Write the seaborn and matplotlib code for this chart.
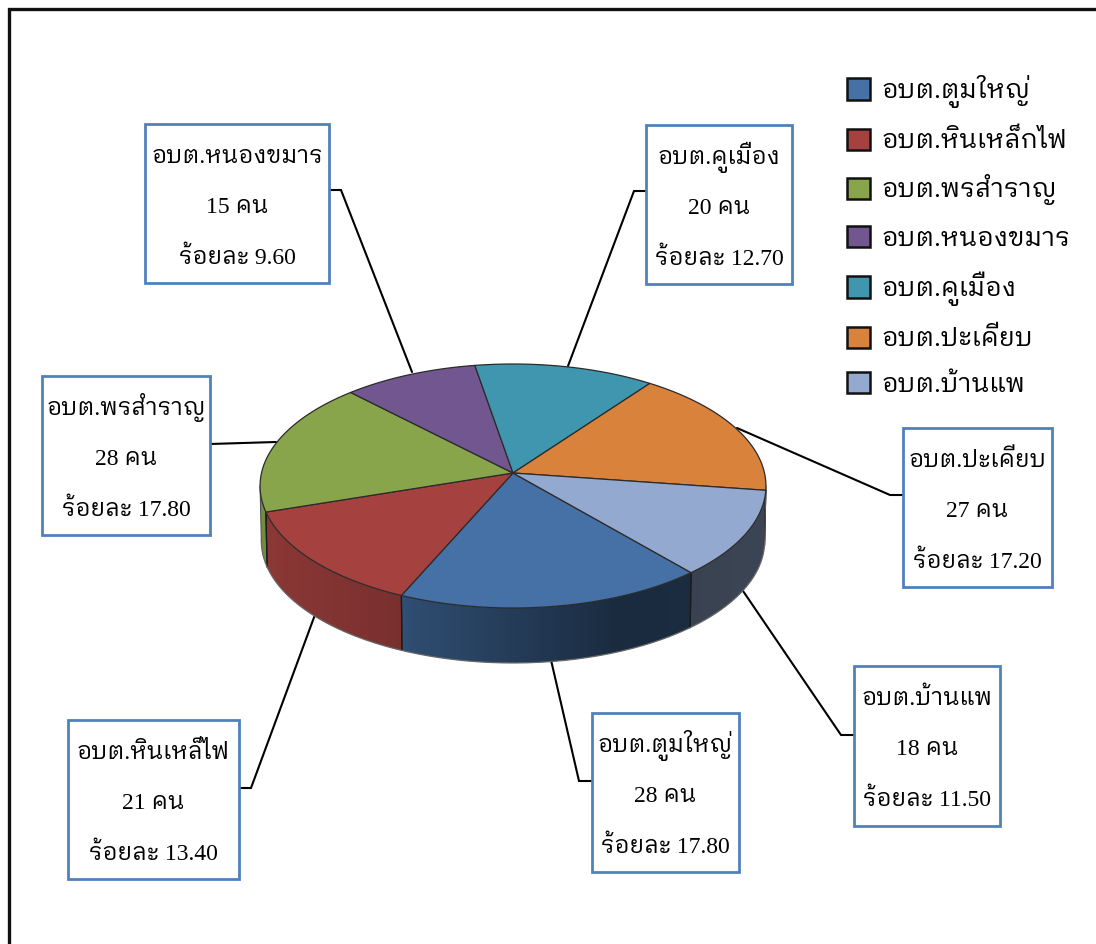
import numpy as np
import matplotlib
matplotlib.use("Agg")
import matplotlib.pyplot as plt
from matplotlib.patches import Patch, Polygon, Rectangle
import seaborn as sns

# ---------- data ----------
legend_names = ["อบต.ตูมใหญ่", "อบต.หินเหล็กไฟ", "อบต.พรสำราญ", "อบต.หนองขมาร",
                "อบต.คูเมือง", "อบต.ปะเคียบ", "อบต.บ้านแพ"]
label_names = ["อบต.ตูมใหญ่", "อบต.หินเหล็ไฟ", "อบต.พรสำราญ", "อบต.หนองขมาร",
               "อบต.คูเมือง", "อบต.ปะเคียบ", "อบต.บ้านแพ"]
counts = [28, 21, 28, 15, 20, 27, 18]
percents = [17.80, 13.40, 17.80, 9.60, 12.70, 17.20, 11.50]
hex_colors = ["#4571A6", "#A54240", "#89A54C", "#71568F", "#4096AE", "#D9823C", "#93A9CF"]

# ---------- layout (pixels of the 1096x944 canvas) ----------
FAMILY = ["Liberation Serif", "IBM Plex Sans Thai Looped"]
CX, CY, RX, RY, K, DEPTH = 513, 473, 251.5, 120.6, 0.1065, 55
START = -49.4
boxes = [(592, 713, 739, 872), (68, 720, 239, 879), (42, 376, 210, 535), (145, 124, 329, 283),
         (646, 125, 792, 284), (903, 428, 1052, 587), (854, 666, 1000, 826)]
leaders = [[(592, 781), (579, 781), (551, 660)],
           [(239, 788), (251, 788), (316, 612)],
           [(210, 444), (276, 442)],
           [(329, 190), (341, 190), (412, 372)],
           [(646, 191), (634, 191), (568, 366)],
           [(903, 495), (890, 495), (737, 428)],
           [(854, 735), (841, 735), (741, 588)]]

sns.set_theme(style="white")
palette = sns.color_palette(hex_colors)
plt.rcParams["font.family"] = FAMILY


def project(theta_deg, drop=0.0, scale=1.0):
    t = np.radians(theta_deg)
    w = 1 + K * np.sin(t)
    return CX + scale * RX * np.cos(t) / w, CY + drop - RY * np.sin(t) / w


def shade(x):
    return np.interp(x, [260, 400, 410, 620, 770], [0.85, 0.73, 0.68, 0.38, 0.41])


fig = plt.figure(figsize=(10.96, 9.44), dpi=100)
ax = fig.add_axes([0, 0, 1, 1])
ax.axis("off")

# outer frame
ax.plot([9, 9, 1096], [944, 9, 9], color="#111111", lw=2.4, solid_joinstyle="miter", zorder=1)

# leader lines
for pts in leaders:
    xs, ys = zip(*pts)
    ax.plot(xs, ys, color="black", lw=1.5, zorder=2, solid_joinstyle="miter")

# slice boundaries from the values
shares = np.asarray(counts, dtype=float) / np.sum(counts)
edges = START - 360 * np.concatenate([[0], np.cumsum(shares)])

# side walls, only on the near part of the rim
FRONT_A, FRONT_B = -6.0, -174.0
for i, color in enumerate(palette):
    for shift in (0, 360):
        a, b = min(edges[i] + shift, FRONT_A), max(edges[i + 1] + shift, FRONT_B)
        if a <= b:
            continue
        ts = np.linspace(a, b, 80)
        xt, yt = project(ts)
        xb, yb = project(ts[::-1], drop=DEPTH, scale=0.995)
        poly = np.c_[np.r_[xt, xb], np.r_[yt, yb]]
        x0, x1 = poly[:, 0].min(), poly[:, 0].max()
        y0, y1 = poly[:, 1].min(), poly[:, 1].max()
        cols = np.linspace(x0, x1, max(int(x1 - x0), 2))
        img = (np.array(color)[None, :] * shade(cols)[:, None])[None, :, :]
        im = ax.imshow(img, extent=(x0, x1, y1, y0), aspect="auto", interpolation="bilinear", zorder=3)
        clip = Polygon(poly, closed=True, transform=ax.transData)
        im.set_clip_path(clip)
        # vertical seams between neighbouring walls
        for t_edge in (a, b):
            if FRONT_B < t_edge < FRONT_A:
                xs, ys = project(t_edge)
                xe, ye = project(t_edge, drop=DEPTH, scale=0.995)
                ax.plot([xs, xe], [ys, ye], color="#1a1a1a", lw=0.9, zorder=4)

# outline of the lower rim and silhouette
ts = np.linspace(FRONT_A, FRONT_B, 200)
xb, yb = project(ts, drop=DEPTH, scale=0.995)
ax.plot(xb, yb, color="#666666", lw=0.9, zorder=4)
for t_end in (FRONT_A, FRONT_B):
    xs, ys = project(t_end)
    xe, ye = project(t_end, drop=DEPTH, scale=0.995)
    ax.plot([xs, xe], [ys, ye], color="#555555", lw=0.8, zorder=4)

# top face
for i, color in enumerate(palette):
    ts = np.linspace(edges[i], edges[i + 1], 120)
    x, y = project(ts)
    ax.add_patch(Polygon(np.c_[np.r_[CX, x], np.r_[CY, y]], closed=True, facecolor=color,
                         edgecolor="#2b2b2b", lw=0.9, joinstyle="round", zorder=5))

# callouts
for i in range(len(counts)):
    x0, y0, x1, y1 = boxes[i]
    ax.add_patch(Rectangle((x0, y0), x1 - x0, y1 - y0, facecolor="white", edgecolor="#4F81BD",
                           lw=2.0, zorder=6, joinstyle="miter"))
    xc = 0.5 * (x0 + x1)
    lines = [label_names[i], f"{counts[i]} คน", f"ร้อยละ {percents[i]:.2f}"]
    for line, off in zip(lines, (39, 89, 140)):
        ax.text(xc, y0 + off, line, ha="center", va="baseline", fontsize=17, color="black",
                family=FAMILY, zorder=7)

# legend
handles = [Patch(facecolor=c, edgecolor="#111111", lw=1.8) for c in palette]
ax.legend(handles, legend_names, loc="upper left", bbox_to_anchor=(847, 75),
          bbox_transform=ax.transData, frameon=False, borderpad=0, borderaxespad=0,
          handlelength=0.88, handleheight=0.88, handletextpad=0.46, labelspacing=0.80,
          labelcolor="black", prop={"family": FAMILY, "size": 18.7})

ax.set_xlim(0, 1096)
ax.set_ylim(944, 0)
fig.savefig("out.png", dpi=100)
